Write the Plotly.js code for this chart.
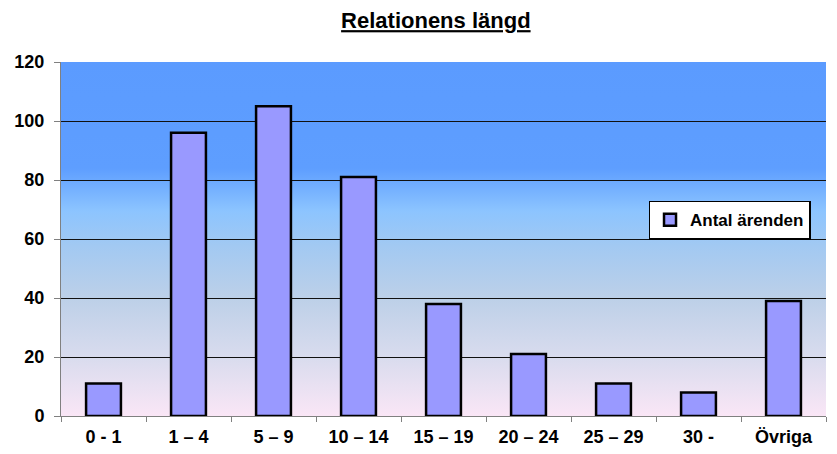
<!DOCTYPE html>
<html>
<head>
<meta charset="utf-8">
<script src="https://cdn.plot.ly/plotly-3.0.1.min.js"></script>
<style>
html,body{margin:0;padding:0;background:#fff;}
#chart{width:837px;height:454px;}
</style>
</head>
<body>
<div id="chart"></div>
<script>
const categories = ["0 - 1", "1 – 4", "5 – 9", "10 – 14", "15 – 19", "20 – 24", "25 – 29", "30 -", "Övriga"];
const antalArenden = [11, 96, 105, 81, 38, 21, 11, 8, 39];
const yTicks = [0, 20, 40, 60, 80, 100, 120];

const svg = '<svg xmlns="http://www.w3.org/2000/svg" width="100" height="100" preserveAspectRatio="none">' +
  '<defs><linearGradient id="g" x1="0" y1="0" x2="0" y2="1">' +
  '<stop offset="0" stop-color="#5B9BFF"/>' +
  '<stop offset="0.30" stop-color="#5E9EFF"/>' +
  '<stop offset="0.42" stop-color="#8CC4FF"/>' +
  '<stop offset="0.52" stop-color="#A2C9F2"/>' +
  '<stop offset="0.67" stop-color="#BDD0E8"/>' +
  '<stop offset="0.84" stop-color="#DADCEE"/>' +
  '<stop offset="1" stop-color="#FAE6F6"/>' +
  '</linearGradient></defs><rect width="100" height="100" fill="url(#g)"/></svg>';
const bgUri = 'data:image/svg+xml;charset=utf-8,' + encodeURIComponent(svg);

const FONT = 'Arial, "Liberation Sans", sans-serif';

const data = [{
  type: 'bar',
  x: categories,
  y: antalArenden,
  name: 'Antal ärenden',
  marker: {color: '#9999FF', line: {color: '#000000', width: 2.5}}
}];

const layout = {
  width: 837, height: 454,
  margin: {l: 61, r: 11, t: 62, b: 38},
  paper_bgcolor: '#ffffff',
  plot_bgcolor: 'rgba(0,0,0,0)',
  font: {family: FONT, color: '#000', size: 17, weight: 'bold'},
  title: {
    text: 'Relationens längd',
    font: {family: FONT, size: 22, weight: 'bold', color: '#000', lineposition: 'under'},
    x: 0.49, xref: 'paper', xanchor: 'center',
    y: 0.955, yref: 'container', yanchor: 'middle'
  },
  bargap: 0.59,
  showlegend: true,
  legend: {
    x: 0.768, y: 0.608, xanchor: 'left', yanchor: 'top',
    bgcolor: '#ffffff', bordercolor: '#000000', borderwidth: 1.5,
    itemwidth: 30,
    font: {family: FONT, size: 17, weight: 'bold', color: '#000'}
  },
  xaxis: {
    type: 'category',
    showline: true, linecolor: '#808080', linewidth: 1,
    ticks: 'outside', tickson: 'boundaries', ticklen: 5, tickcolor: '#808080',
    showgrid: false,
    ticklabelstandoff: 4,
    tickfont: {family: FONT, size: 18, weight: 'bold', color: '#000'}
  },
  yaxis: {
    range: [0, 120],
    tickvals: yTicks,
    showline: true, linecolor: '#808080', linewidth: 1,
    ticks: 'outside', ticklen: 6, tickcolor: '#808080',
    showgrid: true, gridcolor: '#111111', gridwidth: 1,
    zeroline: false,
    ticklabelstandoff: 6,
    tickfont: {family: FONT, size: 18, weight: 'bold', color: '#000'}
  },
  images: [{
    source: bgUri, xref: 'paper', yref: 'paper',
    x: 0, y: 1, sizex: 1, sizey: 1, xanchor: 'left', yanchor: 'top',
    sizing: 'stretch', layer: 'below'
  }]
};

Plotly.newPlot('chart', data, layout, {displayModeBar: false, staticPlot: true});
</script>
</body>
</html>
